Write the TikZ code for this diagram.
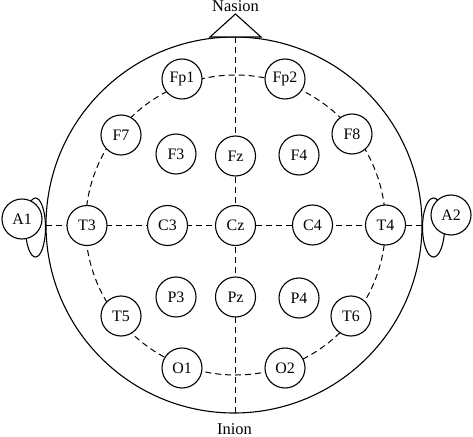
\documentclass[tikz,border=0pt]{standalone}
\usepackage{fontspec}
\setmainfont{Liberation Serif}
\begin{document}
\begin{tikzpicture}[x=1bp,y=-1bp,
  electrode/.style={circle,draw,fill=white,line width=1.1bp,minimum size=40bp,inner sep=0pt,font=\fontsize{16}{16}\selectfont},
  lbl/.style={font=\fontsize{16.5}{17}\selectfont,inner sep=0pt,anchor=base},
  guide/.style={dash pattern=on 6bp off 4bp,line width=1bp},
  outline/.style={line width=1.1bp}]
\useasboundingbox (0,0) rectangle (473,437);
% head
\draw[outline] (234,225) circle[radius=188];
\coordinate (nl) at (210,37);
\coordinate (nr) at (261,37);
\coordinate (na) at (235.5,14);
\draw[outline,fill=white,line join=miter] (nl) -- (na) -- (nr) -- cycle;
% ears
\draw[outline] (35.5,227.5) ellipse[x radius=10, y radius=29.5];
\draw[outline] (433.5,227.5) ellipse[x radius=11, y radius=29.5];
% guides
\coordinate (top) at (235.5,37);
\coordinate (bot) at (235.5,413);
\coordinate (lft) at (46,225.5);
\coordinate (rgt) at (422,225.5);
\draw[guide] (top) -- (bot);
\draw[guide] (lft) -- (rgt);
\draw[guide] (235.5,225) circle[radius=150];
% ear electrodes
\node[electrode] (A1) at (22,219) {A1};
\node[electrode] (A2) at (451,215) {A2};
% electrodes
\node[electrode] (Fp1) at (182,79) {Fp1};
\node[electrode] (Fp2) at (285,79) {Fp2};
\node[electrode] (F7) at (121,135) {F7};
\node[electrode] (F8) at (352,134) {F8};
\node[electrode] (F3) at (176,154) {F3};
\node[electrode] (Fz) at (235.5,156) {Fz};
\node[electrode] (F4) at (299,155) {F4};
\node[electrode] (T3) at (87,225.5) {T3};
\node[electrode] (C3) at (167.5,225.5) {C3};
\node[electrode] (Cz) at (235.5,225.5) {Cz};
\node[electrode] (C4) at (312.5,225) {C4};
\node[electrode] (T4) at (385.5,225) {T4};
\node[electrode] (P3) at (176,297) {P3};
\node[electrode] (Pz) at (235.5,297) {Pz};
\node[electrode] (P4) at (299,298) {P4};
\node[electrode] (T5) at (121,316) {T5};
\node[electrode] (T6) at (351,316) {T6};
\node[electrode] (O1) at (182,368) {O1};
\node[electrode] (O2) at (285,368) {O2};
% labels
\node[lbl] (nasion) at (235.5,12) {Nasion};
\node[lbl] (inion) at (234.5,434) {Inion};
\end{tikzpicture}
\end{document}
